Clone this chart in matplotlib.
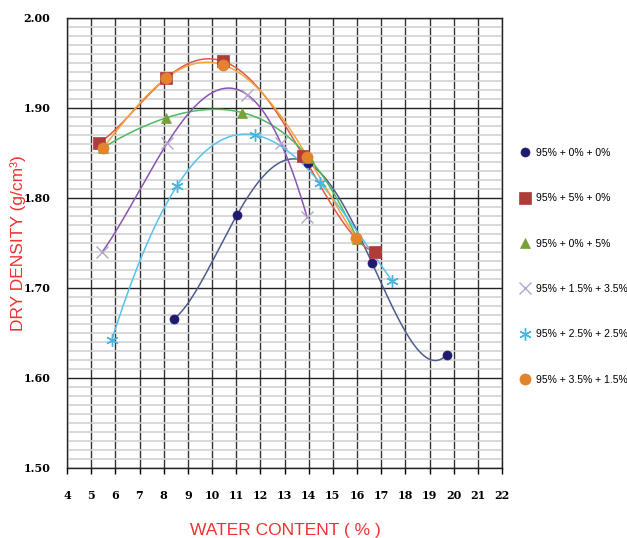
import numpy as np
import matplotlib
matplotlib.use("Agg")
import matplotlib.pyplot as plt

# water content (%) and dry density (g/cm3) for each mix
labels = ["95% + 0% + 0%", "95% + 5% + 0%", "95% + 0% + 5%",
          "95% + 1.5% + 3.5%", "95% + 2.5% + 2.5%", "95% + 3.5% + 1.5%"]

water_0 = [8.44, 11.03, 13.97, 16.62, 19.72]
dens_0 = [1.666, 1.781, 1.839, 1.728, 1.626]

water_1 = [5.32, 8.10, 10.45, 13.77, 16.74]
dens_1 = [1.861, 1.933, 1.952, 1.847, 1.740]

water_2 = [5.50, 8.10, 11.24, 14.00, 16.00]
dens_2 = [1.856, 1.889, 1.895, 1.845, 1.755]

water_3 = [5.46, 8.15, 11.45, 12.85, 13.93]
dens_3 = [1.740, 1.861, 1.915, 1.861, 1.779]

water_4 = [5.85, 8.54, 11.78, 14.47, 17.45]
dens_4 = [1.642, 1.813, 1.870, 1.817, 1.708]

water_5 = [5.50, 8.10, 10.45, 13.95, 15.96]
dens_5 = [1.856, 1.933, 1.948, 1.846, 1.756]

xs = [water_0, water_1, water_2, water_3, water_4, water_5]
ys = [dens_0, dens_1, dens_2, dens_3, dens_4, dens_5]

markers = ["o", "s", "^", "x", (6, 2, 0), "o"]
msizes = [6.5, 8, 7, 8, 9, 8]
mcolors = ["#1f1b6f", "#b03c3a", "#77a038", "#b4a4cc", "#4cb4d8", "#e2832e"]
lcolors = ["#4e5d8e", "#e0594c", "#4dba5e", "#8a55b2", "#55c3ec", "#f2a63a"]

fig = plt.figure(figsize=(6.27, 5.38), dpi=100)
ax = fig.add_axes([67 / 627, 1 - 468 / 538, 435 / 627, 450 / 538])

ax.set_xlim(4, 22)
ax.set_ylim(1.5, 2.0)
ax.set_xticks(np.arange(4, 23, 1))
ax.set_yticks(np.arange(1.5, 2.01, 0.1))
ax.set_yticks(np.arange(1.5, 2.001, 0.01), minor=True)
ax.set_yticklabels(["%.2f" % v for v in np.arange(1.5, 2.01, 0.1)])

ax.grid(which="minor", axis="y", color="#d2d2d2", lw=1.2)
ax.grid(which="major", axis="y", color="#222222", lw=1.0)
ax.grid(which="major", axis="x", color="#333333", lw=1.0)
ax.set_axisbelow(True)

for s in ax.spines.values():
    s.set_color("#222222")
    s.set_linewidth(1.0)

tick_font = dict(family="DejaVu Serif", weight="bold", size=8)
ax.tick_params(axis="x", which="major", direction="out", length=4, width=1, pad=12)
ax.tick_params(axis="y", which="both", length=0, pad=12)
for t in ax.get_xticklabels() + ax.get_yticklabels():
    t.set_fontproperties(matplotlib.font_manager.FontProperties(**tick_font))

# polynomial trend curve through each set of points
for i in range(6):
    x = np.array(xs[i])
    y = np.array(ys[i])
    coef = np.polyfit(x, y, len(x) - 1)
    xx = np.linspace(x.min(), x.max(), 300)
    ax.plot(xx, np.polyval(coef, xx), color=lcolors[i], lw=1.1, zorder=3)

for i in range(6):
    lw = 1.0 if markers[i] in ("x", (6, 2, 0)) else 0
    ax.plot(xs[i], ys[i], ls="none", marker=markers[i], ms=msizes[i],
            color=mcolors[i], mec=mcolors[i], mew=lw if lw else 0.5,
            label=labels[i], zorder=4)

fig.legend(loc="upper left", bbox_to_anchor=(520 / 627, 1 - 148 / 538),
           frameon=False, borderpad=0, borderaxespad=0, handlelength=1.0,
           handletextpad=0.5, labelspacing=3.39, numpoints=1,
           prop=dict(family="Liberation Sans", size=7.5))

fig.text(18 / 627, 1 - 243 / 538, "DRY DENSITY (g/cm³)", rotation=90,
         ha="center", va="center", color="#f03030", family="Liberation Sans",
         size=12.5)
fig.text(285 / 627, 1 - 531 / 538, "WATER CONTENT ( % )", ha="center",
         va="center", color="#f03030", family="Liberation Sans", size=12.5)

fig.savefig("out.png", dpi=100)
